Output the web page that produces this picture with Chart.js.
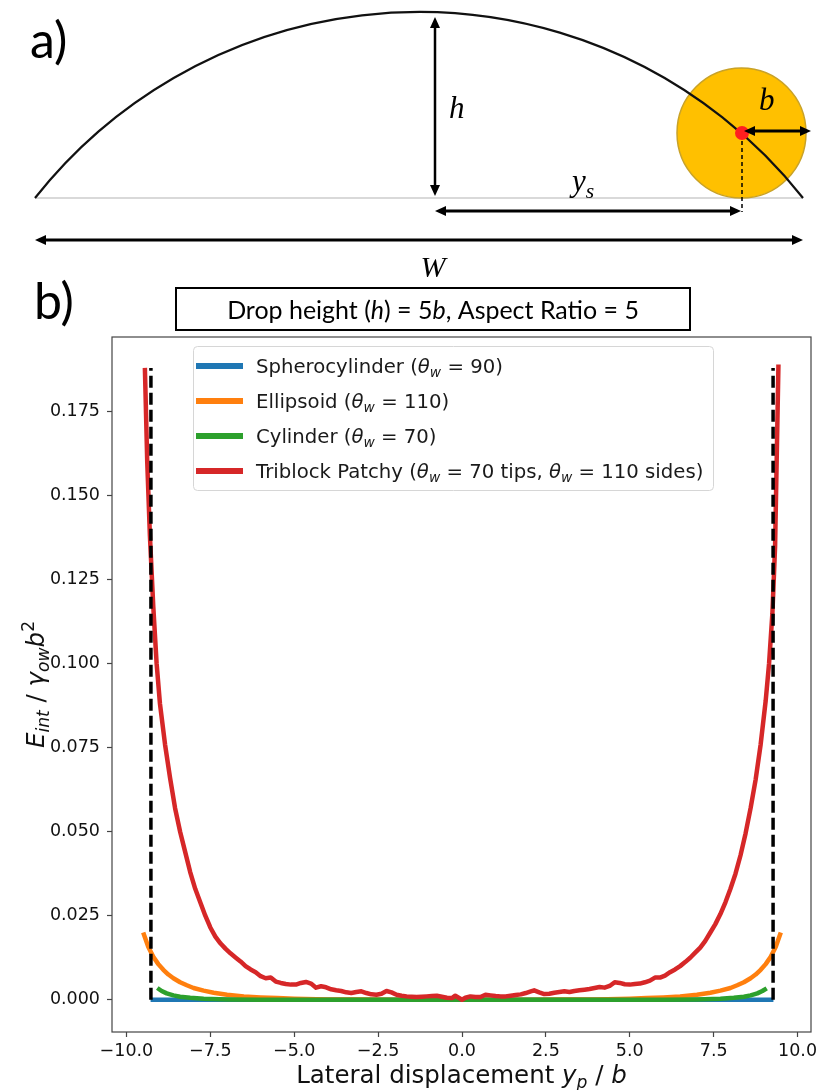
<!DOCTYPE html>
<html>
<head>
<meta charset="utf-8">
<title>Drop interaction energy</title>
<script src="https://cdn.jsdelivr.net/npm/chart.js@4.4.1/dist/chart.umd.min.js"></script>
<style>
  html, body { margin: 0; padding: 0; background: #fff; }
  canvas { display: block; }
</style>
</head>
<body>
<canvas id="dropChart" width="816" height="1090"></canvas>
<script>
// ---- data (x = y_p / b, y = E_int / gamma_ow b^2) ----
const seriesLabels = [
  'Spherocylinder ({θ}_{w} = 90)',
  'Ellipsoid ({θ}_{w} = 110)',
  'Cylinder ({θ}_{w} = 70)',
  'Triblock Patchy ({θ}_{w} = 70 tips, {θ}_{w} = 110 sides)'
];

const sphereX = [-9.28, 9.28];
const sphereY = [0, 0];

const ellipX = [-9.5, -9.35, -9.2, -9.05, -8.9, -8.75, -8.6, -8.4, -8.2, -8.0, -7.7, -7.4, -7.0, -6.5, -6.0, -5.5, -5.0, -4.0, -3.0, -2.0, -1.0, 0,
                1.0, 2.0, 3.0, 4.0, 5.0, 5.5, 6.0, 6.5, 7.0, 7.4, 7.7, 8.0, 8.2, 8.4, 8.6, 8.75, 8.9, 9.05, 9.2, 9.35, 9.5];
const ellipY = [0.0200, 0.0158, 0.0128, 0.0106, 0.0089, 0.0075, 0.0064, 0.0052, 0.0043, 0.0035, 0.0027, 0.0021, 0.0015, 0.0010, 0.0007, 0.0005, 0.0003, 0.0001, 0.00005, 0, 0, 0,
                0, 0, 0.00005, 0.0001, 0.0003, 0.0005, 0.0007, 0.0010, 0.0015, 0.0021, 0.0027, 0.0035, 0.0043, 0.0052, 0.0064, 0.0075, 0.0089, 0.0106, 0.0128, 0.0158, 0.0200];

const cylX = [-9.08, -8.95, -8.8, -8.6, -8.4, -8.1, -7.7, -7.0, -6.0, 0, 6.0, 7.0, 7.7, 8.1, 8.4, 8.6, 8.8, 8.95, 9.08];
const cylY = [0.0035, 0.0026, 0.0019, 0.0013, 0.0009, 0.0006, 0.0003, 0.0001, 0, 0, 0, 0.0001, 0.0003, 0.0006, 0.0009, 0.0013, 0.0019, 0.0026, 0.0034];

const triX = [-9.45, -9.38, -9.30, -9.20, -9.10, -9.00, -8.85, -8.70, -8.55, -8.40, -8.25, -8.10, -7.95, -7.80, -7.65, -7.50,
              -7.35, -7.20, -7.05, -6.90, -6.75, -6.60, -6.45, -6.30, -6.15, -6.00, -5.85, -5.70, -5.55, -5.40, -5.25, -5.10,
              -4.95, -4.80, -4.65, -4.50, -4.35, -4.20, -4.05, -3.90, -3.75, -3.60, -3.45, -3.30, -3.15, -3.00, -2.85, -2.70,
              -2.55, -2.40, -2.25, -2.10, -1.95, -1.80, -1.65, -1.50, -1.35, -1.20, -1.05, -0.90, -0.75, -0.60, -0.45, -0.30,
              -0.20, -0.10, 0.00, 0.10, 0.25, 0.40, 0.55, 0.70, 0.85, 1.00, 1.15, 1.30, 1.45, 1.60, 1.75, 1.90,
              2.05, 2.15, 2.30, 2.45, 2.60, 2.75, 2.90, 3.05, 3.20, 3.35, 3.50, 3.65, 3.80, 3.95, 4.10, 4.25,
              4.40, 4.55, 4.70, 4.85, 5.00, 5.15, 5.30, 5.45, 5.60, 5.75, 5.90, 6.05, 6.20, 6.35, 6.50, 6.65,
              6.80, 6.95, 7.10, 7.25, 7.40, 7.55, 7.70, 7.85, 8.00, 8.15, 8.30, 8.45, 8.60, 8.75, 8.90, 9.05,
              9.15, 9.25, 9.33, 9.43];
const triY = [0.188, 0.160, 0.138, 0.117, 0.100, 0.088, 0.076, 0.066, 0.057, 0.050, 0.044, 0.038, 0.033, 0.029, 0.025, 0.0215,
              0.0188, 0.0168, 0.0152, 0.0138, 0.0126, 0.0114, 0.0100, 0.0090, 0.0082, 0.0070, 0.0064, 0.0066, 0.0054, 0.0050, 0.0047, 0.0045,
              0.0045, 0.0050, 0.0053, 0.0048, 0.0036, 0.0040, 0.0037, 0.0031, 0.0028, 0.0026, 0.0022, 0.0020, 0.0023, 0.0025, 0.0020, 0.0016,
              0.0015, 0.0018, 0.0026, 0.0022, 0.0015, 0.0012, 0.0010, 0.0009, 0.0008, 0.0009, 0.0010, 0.0011, 0.0012, 0.0009, 0.0006, 0.0005,
              0.0012, 0.0006, 0.0000, 0.0006, 0.0010, 0.0008, 0.0008, 0.0015, 0.0013, 0.0011, 0.0010, 0.0010, 0.0012, 0.0014, 0.0016, 0.0020,
              0.0025, 0.0028, 0.0022, 0.0017, 0.0018, 0.0021, 0.0023, 0.0025, 0.0023, 0.0026, 0.0028, 0.0030, 0.0032, 0.0035, 0.0038, 0.0036,
              0.0041, 0.0052, 0.0050, 0.0046, 0.0045, 0.0047, 0.0048, 0.0052, 0.0057, 0.0066, 0.0066, 0.0072, 0.0082, 0.0090, 0.0100, 0.0112,
              0.0125, 0.0140, 0.0155, 0.0175, 0.0200, 0.0225, 0.0255, 0.0290, 0.0330, 0.0375, 0.0430, 0.0495, 0.0570, 0.0655, 0.0760, 0.0890,
              0.1000, 0.1150, 0.1350, 0.1890];

// droplet contact line (dashed walls)
const wallX = [-9.27, 9.27];
const wallY = [0, 0.188];

const xTickValues = [-10, -7.5, -5, -2.5, 0, 2.5, 5, 7.5, 10];
const yTickValues = [0, 0.025, 0.05, 0.075, 0.1, 0.125, 0.15, 0.175];

const seriesColors = ['#1f77b4', '#ff7f0e', '#2ca02c', '#d62728'];

function pts(xs, ys) {
  return xs.map((x, i) => ({ x: x, y: ys[i] }));
}

// ---- small rich-text helper: {x} italic, _{x} italic subscript, ^{x} superscript ----
function parseRich(str) {
  const parts = [];
  const re = /(\^\{[^}]*\}|_\{[^}]*\}|\{[^}]*\})/g;
  let last = 0, m;
  while ((m = re.exec(str))) {
    if (m.index > last) parts.push({ t: str.slice(last, m.index), it: false, sh: 0 });
    const tok = m[0];
    if (tok[0] === '^') parts.push({ t: tok.slice(2, -1), it: false, sh: 1 });
    else if (tok[0] === '_') parts.push({ t: tok.slice(2, -1), it: true, sh: -1 });
    else parts.push({ t: tok.slice(1, -1), it: true, sh: 0 });
    last = re.lastIndex;
  }
  if (last < str.length) parts.push({ t: str.slice(last), it: false, sh: 0 });
  return parts;
}

function drawRich(ctx, str, x, y, o) {
  const parts = parseRich(str);
  let size = o.size;
  const fontOf = p => (p.it ? 'italic ' : '') + (p.sh ? size * 0.7 : size) + 'px ' + o.family;
  const measure = () => {
    let tot = 0;
    parts.forEach(p => { ctx.font = fontOf(p); p.w = ctx.measureText(p.t).width; tot += p.w; });
    return tot;
  };
  let total = measure();
  if (o.fit) { size = size * o.fit / total; total = measure(); }
  let cx = o.align === 'center' ? x - total / 2 : (o.align === 'right' ? x - total : x);
  ctx.fillStyle = o.color || '#000';
  ctx.textBaseline = 'alphabetic';
  ctx.textAlign = 'left';
  parts.forEach(p => {
    ctx.font = fontOf(p);
    const dy = p.sh === -1 ? size * 0.22 : (p.sh === 1 ? -size * 0.42 : 0);
    ctx.fillText(p.t, cx, y + dy);
    cx += p.w;
  });
  return total;
}

function arrow(ctx, x1, y1, x2, y2, lw) {
  const hl = 11, hw = 5;
  const a = Math.atan2(y2 - y1, x2 - x1);
  ctx.save();
  ctx.strokeStyle = '#000';
  ctx.fillStyle = '#000';
  ctx.lineWidth = lw;
  ctx.beginPath();
  ctx.moveTo(x1 + Math.cos(a) * hl * 0.8, y1 + Math.sin(a) * hl * 0.8);
  ctx.lineTo(x2 - Math.cos(a) * hl * 0.8, y2 - Math.sin(a) * hl * 0.8);
  ctx.stroke();
  [[x1, y1, a + Math.PI], [x2, y2, a]].forEach(([px, py, ang]) => {
    ctx.beginPath();
    ctx.moveTo(px, py);
    ctx.lineTo(px - Math.cos(ang) * hl - Math.sin(ang) * hw, py - Math.sin(ang) * hl + Math.cos(ang) * hw);
    ctx.lineTo(px - Math.cos(ang) * hl + Math.sin(ang) * hw, py - Math.sin(ang) * hl - Math.cos(ang) * hw);
    ctx.closePath();
    ctx.fill();
  });
  ctx.restore();
}

// panel a) : drop sketch
function drawSchematic(ctx) {
  const serif = '"Liberation Serif", "DejaVu Serif", serif';
  ctx.save();
  // substrate
  ctx.strokeStyle = '#d9d9d9';
  ctx.lineWidth = 2;
  ctx.beginPath(); ctx.moveTo(35, 198); ctx.lineTo(803, 198); ctx.stroke();

  // particle
  ctx.fillStyle = '#ffc000';
  ctx.strokeStyle = '#c9a227';
  ctx.lineWidth = 1.5;
  ctx.beginPath(); ctx.ellipse(741.5, 133, 64.5, 65, 0, 0, Math.PI * 2); ctx.fill(); ctx.stroke();

  // drop cap: circular arc through both ends and the apex
  const R = 489.4, cx = 419, cy = 12 + R;
  ctx.strokeStyle = '#111';
  ctx.lineWidth = 2.2;
  ctx.beginPath();
  ctx.arc(cx, cy, R, Math.atan2(198 - cy, 35 - cx), Math.atan2(198 - cy, 803 - cx));
  ctx.stroke();

  // particle centre
  ctx.fillStyle = '#ff1f1f';
  ctx.beginPath(); ctx.arc(742, 133, 7, 0, Math.PI * 2); ctx.fill();

  // guide
  ctx.strokeStyle = '#000';
  ctx.lineWidth = 1.5;
  ctx.setLineDash([4, 3]);
  ctx.beginPath(); ctx.moveTo(742, 141); ctx.lineTo(742, 212); ctx.stroke();
  ctx.setLineDash([]);

  arrow(ctx, 744, 131, 811, 131, 3);
  arrow(ctx, 435, 17, 435, 196, 2.5);
  arrow(ctx, 435, 211, 741, 211, 3);
  arrow(ctx, 35, 240, 803, 240, 3);

  drawRich(ctx, '{b}', 759, 110, { size: 31, family: serif });
  drawRich(ctx, '{h}', 449, 118, { size: 31, family: serif });
  drawRich(ctx, '{y}_{s}', 572, 191, { size: 31, family: serif });
  drawRich(ctx, '{W}', 433, 277, { size: 30, family: serif, align: 'center' });

  ctx.fillStyle = '#000';
  ctx.font = '50px Lato, "Open Sans", sans-serif';
  ctx.textAlign = 'left';
  ctx.textBaseline = 'alphabetic';
  ctx.fillText('a)', 30, 58);
  ctx.fillText('b)', 34, 319);
  ctx.restore();
}

const figurePlugin = {
  id: 'figure',
  beforeDraw(chart) {
    const ctx = chart.ctx;
    ctx.save();
    ctx.fillStyle = '#fff';
    ctx.fillRect(0, 0, chart.width, chart.height);
    ctx.restore();
    drawSchematic(ctx);

    // boxed title
    ctx.save();
    ctx.strokeStyle = '#000';
    ctx.lineWidth = 2;
    ctx.strokeRect(176, 288, 514, 42);
    drawRich(ctx, 'Drop height ({h}) = 5{b}, Aspect Ratio = 5', 433, 319,
      { size: 23, family: 'Lato, "Open Sans", sans-serif', align: 'center', fit: 412 });
    ctx.restore();
  },
  afterDatasetsDraw(chart) {
    const ctx = chart.ctx;
    // legend box (upper centre, inside axes)
    ctx.save();
    ctx.fillStyle = 'rgba(255,255,255,0.85)';
    ctx.strokeStyle = '#d6d6d6';
    ctx.lineWidth = 1;
    ctx.beginPath();
    ctx.roundRect(193.5, 346.5, 520, 144, 4);
    ctx.fill();
    ctx.stroke();
    seriesLabels.forEach((lab, i) => {
      const yy = 366 + i * 35;
      ctx.strokeStyle = seriesColors[i];
      ctx.lineWidth = 6;
      ctx.beginPath(); ctx.moveTo(196, yy); ctx.lineTo(243, yy); ctx.stroke();
      drawRich(ctx, lab, 256, yy + 7, { size: 19.7, family: '"DejaVu Sans"', color: '#1a1a1a' });
    });
    ctx.restore();
  },
  afterDraw(chart) {
    const ctx = chart.ctx;
    const a = chart.chartArea;
    ctx.save();
    ctx.strokeStyle = '#444';
    ctx.lineWidth = 1.2;
    ctx.strokeRect(a.left, a.top, a.right - a.left, a.bottom - a.top);

    drawRich(ctx, 'Lateral displacement {y}_{p} / {b}', (a.left + a.right) / 2, 1083,
      { size: 24.5, family: '"DejaVu Sans"', align: 'center', color: '#111' });

    ctx.translate(44, (a.top + a.bottom) / 2);
    ctx.rotate(-Math.PI / 2);
    drawRich(ctx, '{E}_{int} / {γ}_{ow}{b}^{2}', 0, 0,
      { size: 24.5, family: '"DejaVu Sans"', align: 'center', color: '#111' });
    ctx.restore();
  }
};

const fmtTick = (v, d) => v.toFixed(d).replace('-', '\u2212');

const axisCommon = {
  type: 'linear',
  grid: { drawOnChartArea: false, drawTicks: true, tickLength: 5, color: '#444', tickWidth: 1.2 },
  border: { display: false }
};

const chart = new Chart(document.getElementById('dropChart'), {
  type: 'scatter',
  data: {
    datasets: [
      { label: 'wall L', data: pts([wallX[0], wallX[0]], wallY), borderColor: '#000', borderWidth: 3.5, borderDash: [12, 5], order: 0 },
      { label: 'wall R', data: pts([wallX[1], wallX[1]], wallY), borderColor: '#000', borderWidth: 3.5, borderDash: [12, 5], order: 0 },
      { label: seriesLabels[3], data: pts(triX, triY), borderColor: seriesColors[3], borderWidth: 4.5, order: 1 },
      { label: seriesLabels[2], data: pts(cylX, cylY), borderColor: seriesColors[2], borderWidth: 4.5, order: 2 },
      { label: seriesLabels[1], data: pts(ellipX, ellipY), borderColor: seriesColors[1], borderWidth: 4.5, order: 3 },
      { label: seriesLabels[0], data: pts(sphereX, sphereY), borderColor: seriesColors[0], borderWidth: 4.5, order: 4 }
    ]
  },
  options: {
    responsive: false,
    animation: false,
    devicePixelRatio: 1,
    layout: { padding: { top: 337, left: 0, right: 5, bottom: 0 } },
    datasets: { scatter: { showLine: true } },
    elements: {
      point: { radius: 0, hoverRadius: 0 },
      line: { tension: 0, fill: false, borderJoinStyle: 'round', borderCapStyle: 'butt' }
    },
    plugins: {
      legend: { display: false },
      tooltip: { enabled: false },
      title: { display: false }
    },
    scales: {
      x: Object.assign({}, axisCommon, {
        position: 'bottom',
        min: -10.43,
        max: 10.40,
        afterBuildTicks: s => { s.ticks = xTickValues.map(v => ({ value: v })); },
        afterFit: s => { s.height = 58; s.paddingLeft = 0; s.paddingRight = 0; },
        ticks: {
          padding: 4, color: '#111', maxRotation: 0, autoSkip: false,
          font: { family: '"DejaVu Sans"', size: 17.5 },
          callback: v => fmtTick(v, 1)
        }
      }),
      y: Object.assign({}, axisCommon, {
        position: 'left',
        min: -0.0096,
        max: 0.1972,
        afterBuildTicks: s => { s.ticks = yTickValues.map(v => ({ value: v })); },
        afterFit: s => { s.width = 112; s.paddingTop = 0; s.paddingBottom = 0; },
        ticks: {
          padding: 7, color: '#111', autoSkip: false,
          font: { family: '"DejaVu Sans"', size: 17.5 },
          callback: v => fmtTick(v, 3)
        }
      })
    }
  },
  plugins: [figurePlugin]
});
</script>
</body>
</html>
